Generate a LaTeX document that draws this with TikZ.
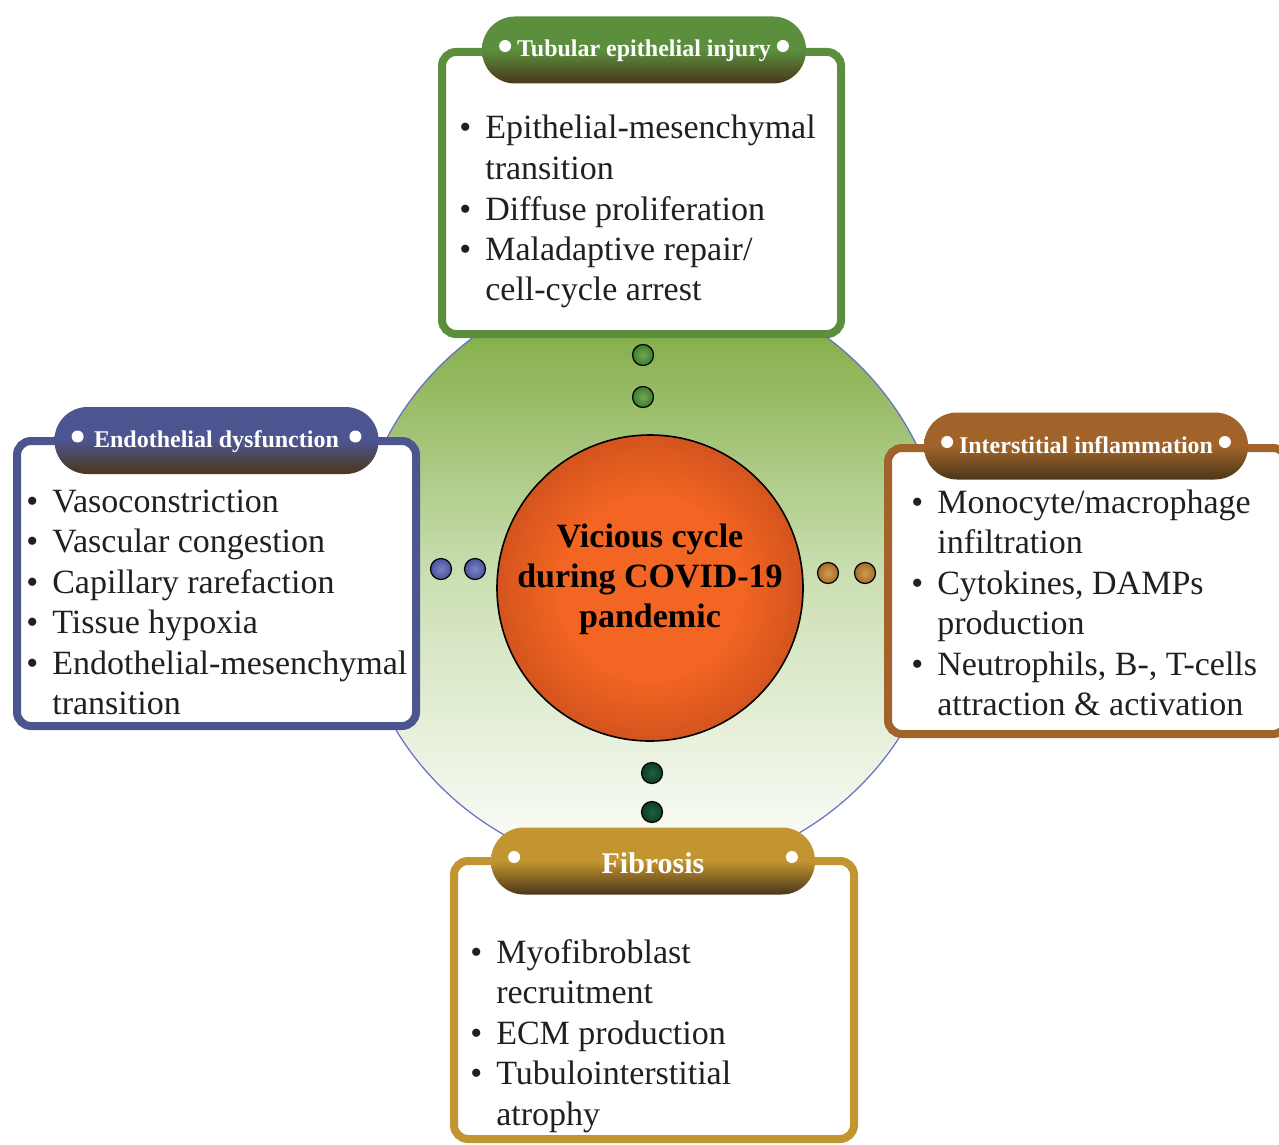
\documentclass[tikz,border=0pt]{standalone}
\usepackage{fontspec}
\setmainfont{Liberation Serif}
\usepackage{tikz}
\usetikzlibrary{shapes,positioning,shadings}
\usepackage{xcolor}
\definecolor{tubgreen}{RGB}{91,143,62}
\definecolor{endblue}{RGB}{77,85,144}
\definecolor{infbrown}{RGB}{161,99,41}
\definecolor{fibgold}{RGB}{194,149,48}
\definecolor{hdrdark}{RGB}{75,54,26}
\definecolor{ringtop}{RGB}{118,165,52}
\definecolor{ringmid}{RGB}{203,223,178}
\definecolor{ringblue}{RGB}{98,110,200}
\definecolor{vcorange}{RGB}{242,101,34}
\definecolor{vcrim}{RGB}{212,84,30}
\definecolor{txtdark}{RGB}{35,31,32}
\definecolor{dotgreen}{RGB}{62,122,48}
\definecolor{dotgreenl}{RGB}{110,170,84}
\definecolor{dotblue}{RGB}{74,82,152}
\definecolor{dotbluel}{RGB}{122,130,202}
\definecolor{dotbrown}{RGB}{165,106,42}
\definecolor{dotbrownl}{RGB}{210,156,82}
\definecolor{dotdark}{RGB}{13,61,34}
\definecolor{dotdarkl}{RGB}{28,98,64}
\pgfdeclareradialshading{vcshade}{\pgfpoint{0bp}{0bp}}{color(0bp)=(vcorange); color(15bp)=(vcorange); color(25bp)=(vcrim); color(50bp)=(vcrim)}
\tikzstyle{ringnode} = [circle, minimum size=297pt, inner sep=0pt, draw=ringblue, line width=0.6pt, top color=ringtop, bottom color=white, middle color=ringmid]
\tikzstyle{vcnode} = [circle, minimum size=153pt, inner sep=0pt, draw=black, line width=0.8pt, shade, shading=vcshade]
\tikzstyle{centretext} = [anchor=base, inner sep=0pt, font=\fontsize{17}{20}\selectfont\bfseries, text=black]
\tikzstyle{linkdot} = [circle, draw=black, line width=0.6pt, minimum size=10.5pt, inner sep=0pt]
\tikzstyle{listbox} = [rectangle, rounded corners=7pt, line width=4pt, fill=white, inner sep=0pt]
\tikzstyle{hdrpill} = [rectangle, rounded corners=16.5pt, minimum width=162pt, minimum height=33.5pt, inner sep=0pt, text=white, font=\fontsize{12}{14}\selectfont\bfseries, text height=9pt, text depth=2pt]
\tikzstyle{hdrdot} = [circle, fill=white, minimum size=6pt, inner sep=0pt]
\tikzstyle{itemtext} = [anchor=base west, inner sep=0pt, font=\fontsize{17}{20.25}\selectfont, text=txtdark]
\tikzset{hdrshade/.style={top color=#1, bottom color=hdrdark, middle color=#1}}
\newenvironment{itemlist}{\begin{tabular}[t]{@{}l@{\hspace{7pt}}l@{}}}{\end{tabular}}
\newcommand{\bul}{\textbullet}

\begin{document}
\begin{tikzpicture}[x=0.5pt,y=-0.5pt]
\useasboundingbox (0,0) rectangle (1279,1145);
% ring and centre
\node[ringnode] (ring) at (650,576) {};
\node[vcnode] (vc) at (650,588) {};
\node[centretext] (vctext) at (650,547) {\begin{tabular}[t]{@{}c@{}}Vicious cycle\\during COVID-19\\pandemic\end{tabular}};

% dots between centre and boxes
\node[linkdot, inner color=dotgreenl, outer color=dotgreen] (tubdota) at (643,355) {};
\node[linkdot, inner color=dotgreenl, outer color=dotgreen] (tubdotb) at (643,397) {};
\node[linkdot, inner color=dotbluel, outer color=dotblue] (enddota) at (441,569) {};
\node[linkdot, inner color=dotbluel, outer color=dotblue] (enddotb) at (475,569) {};
\node[linkdot, inner color=dotbrownl, outer color=dotbrown] (infdota) at (828,573) {};
\node[linkdot, inner color=dotbrownl, outer color=dotbrown] (infdotb) at (865,573) {};
\node[linkdot, inner color=dotdarkl, outer color=dotdark] (fibdota) at (652,773) {};
\node[linkdot, inner color=dotdarkl, outer color=dotdark] (fibdotb) at (652,812) {};

% boxes
\node[listbox, draw=tubgreen, minimum width=199.5pt, minimum height=141pt] (tubbox) at (641.5,193) {};
\node[listbox, draw=endblue, minimum width=199.5pt, minimum height=142.5pt] (endbox) at (216.5,583.5) {};
\node[listbox, draw=infbrown, minimum width=199.5pt, minimum height=143pt] (infbox) at (1087.5,591) {};
\node[listbox, draw=fibgold, minimum width=200pt, minimum height=139pt] (fibbox) at (654,1000) {};

% headers
\node[hdrpill, hdrshade=tubgreen] (tubhdr) at (644,50) {Tubular epithelial injury};
\node[hdrpill, hdrshade=endblue] (endhdr) at (216.5,440.5) {Endothelial dysfunction};
\node[hdrpill, hdrshade=infbrown] (infhdr) at (1086,446) {Interstitial inflammation};
\node[hdrpill, hdrshade=fibgold, font=\fontsize{15}{18}\selectfont\bfseries, text height=14pt] (fibhdr) at (653,861) {Fibrosis};
\foreach \h in {tubhdr,endhdr,infhdr,fibhdr} {
  \node[hdrdot] (\h l) at ([xshift=11.75pt,yshift=2pt]\h.west) {};
  \node[hdrdot] (\h r) at ([xshift=-11.75pt,yshift=2pt]\h.east) {};
}

% lists
\node[itemtext] (tubtext) at (459,139) {\begin{itemlist}
\bul & Epithelial-mesenchymal\\
     & transition\\
\bul & Diffuse proliferation\\
\bul & Maladaptive repair/\\
     & cell-cycle arrest
\end{itemlist}};
\node[itemtext] (endtext) at (26,512) {\begin{itemlist}
\bul & Vasoconstriction\\
\bul & Vascular congestion\\
\bul & Capillary rarefaction\\
\bul & Tissue hypoxia\\
\bul & Endothelial-mesenchymal\\
     & transition
\end{itemlist}};
\node[itemtext] (inftext) at (911,513) {\begin{itemlist}
\bul & Monocyte/macrophage\\
     & infiltration\\
\bul & Cytokines, DAMPs\\
     & production\\
\bul & Neutrophils, B-, T-cells\\
     & attraction \& activation
\end{itemlist}};
\node[itemtext] (fibtext) at (470,963) {\begin{itemlist}
\bul & Myofibroblast\\
     & recruitment\\
\bul & ECM production\\
\bul & Tubulointerstitial\\
     & atrophy
\end{itemlist}};
\end{tikzpicture}
\end{document}
